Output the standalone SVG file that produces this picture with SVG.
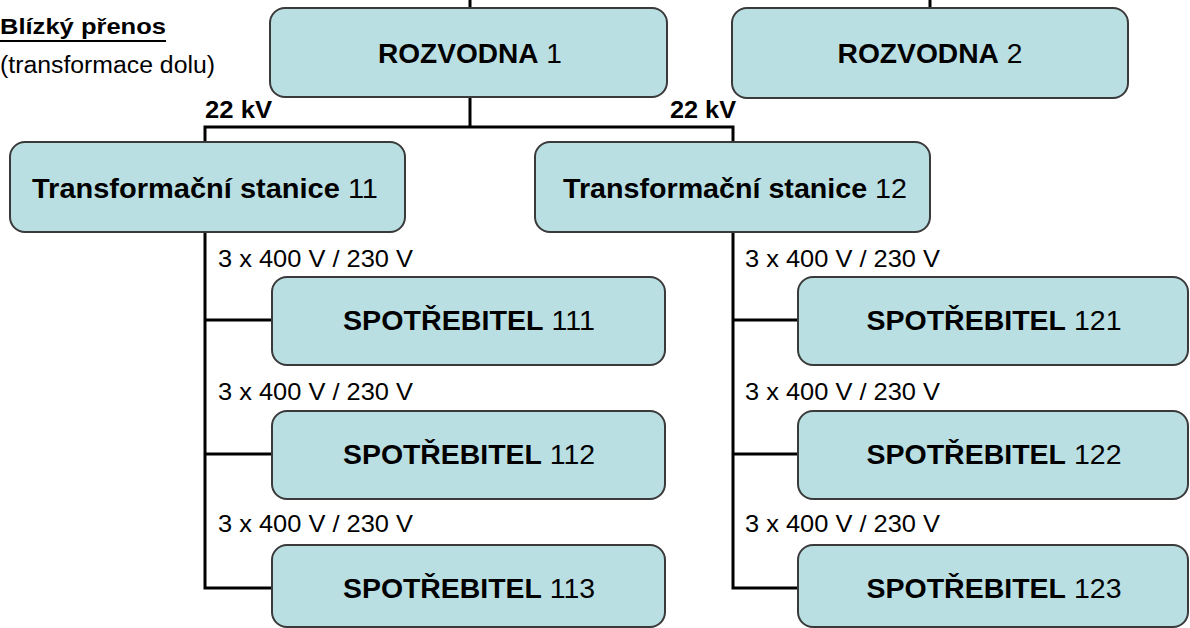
<svg xmlns="http://www.w3.org/2000/svg" width="1190" height="628" viewBox="0 0 1190 628">
  <style>
    .box { fill: #badfe3; stroke: #3a3a3a; stroke-width: 2; }
    .wire { fill: none; stroke: #000; stroke-width: 3; }
    text { font-family: "Liberation Sans", Arial, sans-serif; fill: #000; }
    .name { font-size: 27px; text-anchor: middle; }
    .b { font-weight: bold; }
    .volt { font-size: 24px; }
    .kv { font-size: 24px; font-weight: bold; }
  </style>
  <rect width="1190" height="628" fill="#fff"/>

  <!-- heading -->
  <g id="heading">
    <text x="0" y="34" font-size="22" font-weight="bold" textLength="166" lengthAdjust="spacingAndGlyphs">Blízký přenos</text>
    <line x1="0" y1="41" x2="166" y2="41" stroke="#000" stroke-width="2"/>
    <text x="0" y="73" font-size="23" textLength="215" lengthAdjust="spacingAndGlyphs">(transformace  dolu)</text>
  </g>

  <!-- wiring -->
  <g id="connectors">
    <line class="wire" x1="470" y1="0" x2="470" y2="9"/>
    <line class="wire" x1="930" y1="0" x2="930" y2="9"/>
    <polyline class="wire" points="470,97 470,127"/>
    <polyline class="wire" points="205,142 205,127 733,127 733,142"/>
    <polyline class="wire" points="205,232 205,588 272,588"/>
    <line class="wire" x1="205" y1="320" x2="272" y2="320"/>
    <line class="wire" x1="205" y1="454" x2="272" y2="454"/>
    <polyline class="wire" points="733,232 733,588 798,588"/>
    <line class="wire" x1="733" y1="320" x2="798" y2="320"/>
    <line class="wire" x1="733" y1="454" x2="798" y2="454"/>
  </g>

  <!-- line voltage labels -->
  <g id="voltages">
    <text class="kv" x="205" y="118" textLength="67" lengthAdjust="spacingAndGlyphs">22 kV</text>
    <text class="kv" x="670" y="118" textLength="66" lengthAdjust="spacingAndGlyphs">22 kV</text>
    <text class="volt" x="218" y="267" textLength="195" lengthAdjust="spacingAndGlyphs">3 x 400 V / 230 V</text>
    <text class="volt" x="218" y="400" textLength="195" lengthAdjust="spacingAndGlyphs">3 x 400 V / 230 V</text>
    <text class="volt" x="218" y="532" textLength="195" lengthAdjust="spacingAndGlyphs">3 x 400 V / 230 V</text>
    <text class="volt" x="745" y="267" textLength="195" lengthAdjust="spacingAndGlyphs">3 x 400 V / 230 V</text>
    <text class="volt" x="745" y="400" textLength="195" lengthAdjust="spacingAndGlyphs">3 x 400 V / 230 V</text>
    <text class="volt" x="745" y="532" textLength="195" lengthAdjust="spacingAndGlyphs">3 x 400 V / 230 V</text>
  </g>

  <g id="rozvodna1">
    <rect class="box" x="270" y="8" width="397" height="89" rx="15"/>
    <text class="name" x="470" y="63" textLength="184" lengthAdjust="spacingAndGlyphs"><tspan class="b">ROZVODNA</tspan> 1</text>
  </g>
  <g id="rozvodna2">
    <rect class="box" x="732" y="8" width="396" height="90" rx="15"/>
    <text class="name" x="930" y="63" textLength="185" lengthAdjust="spacingAndGlyphs"><tspan class="b">ROZVODNA</tspan> 2</text>
  </g>

  <g id="ts11">
    <rect class="box" x="10" y="142" width="395" height="90" rx="15"/>
    <text class="name" x="205" y="198" textLength="346" lengthAdjust="spacingAndGlyphs"><tspan class="b">Transformační stanice</tspan> 11</text>
  </g>
  <g id="ts12">
    <rect class="box" x="535" y="142" width="395" height="90" rx="15"/>
    <text class="name" x="735" y="198" textLength="344" lengthAdjust="spacingAndGlyphs"><tspan class="b">Transformační stanice</tspan> 12</text>
  </g>

  <g id="sp111">
    <rect class="box" x="272" y="277" width="393" height="88" rx="15"/>
    <text class="name" x="469" y="330" textLength="252" lengthAdjust="spacingAndGlyphs"><tspan class="b">SPOTŘEBITEL</tspan> 111</text>
  </g>
  <g id="sp112">
    <rect class="box" x="272" y="411" width="393" height="88" rx="15"/>
    <text class="name" x="469" y="464" textLength="252" lengthAdjust="spacingAndGlyphs"><tspan class="b">SPOTŘEBITEL</tspan> 112</text>
  </g>
  <g id="sp113">
    <rect class="box" x="272" y="545" width="393" height="82" rx="15"/>
    <text class="name" x="469" y="598" textLength="252" lengthAdjust="spacingAndGlyphs"><tspan class="b">SPOTŘEBITEL</tspan> 113</text>
  </g>

  <g id="sp121">
    <rect class="box" x="798" y="277" width="390" height="88" rx="15"/>
    <text class="name" x="994" y="330" textLength="255" lengthAdjust="spacingAndGlyphs"><tspan class="b">SPOTŘEBITEL</tspan> 121</text>
  </g>
  <g id="sp122">
    <rect class="box" x="798" y="411" width="390" height="88" rx="15"/>
    <text class="name" x="994" y="464" textLength="255" lengthAdjust="spacingAndGlyphs"><tspan class="b">SPOTŘEBITEL</tspan> 122</text>
  </g>
  <g id="sp123">
    <rect class="box" x="798" y="545" width="390" height="82" rx="15"/>
    <text class="name" x="994" y="598" textLength="255" lengthAdjust="spacingAndGlyphs"><tspan class="b">SPOTŘEBITEL</tspan> 123</text>
  </g>
</svg>
